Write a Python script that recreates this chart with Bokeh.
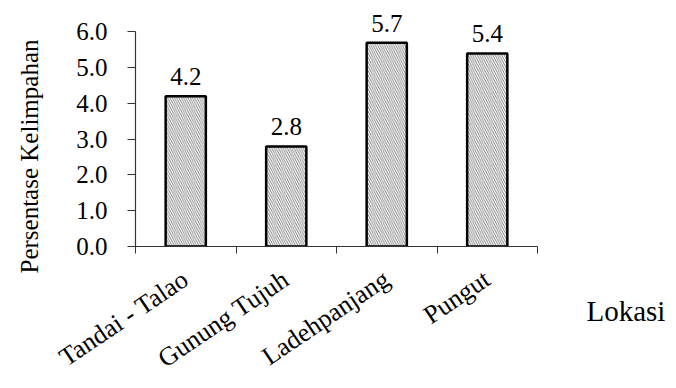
import math
from bokeh.plotting import figure
from bokeh.models import ColumnDataSource, FixedTicker, Label, LabelSet, NumeralTickFormatter, Range1d
from bokeh.embed import file_html
from bokeh.resources import INLINE

# ---- data ----
categories = ["Tandai - Talao", "Gunung Tujuh", "Ladehpanjang", "Pungut"]
values = [4.2, 2.8, 5.7, 5.4]
y_ticks = [0, 1, 2, 3, 4, 5, 6]
y_label = "Persentase Kelimpahan"
x_label = "Lokasi"

FONT = "Liberation Serif"

centers = [i + 0.5 for i in range(len(categories))]
bounds = list(range(len(categories) + 1))
src = ColumnDataSource(dict(
    x=centers,
    top=values,
    txt=["%.1f" % v for v in values],
))

# headroom above the top tick so the value labels are not clipped
y_top = y_ticks[-1] * 1.1

p = figure(width=676, height=388, output_backend="svg", toolbar_location=None,
           x_range=Range1d(0, len(categories)), y_range=Range1d(y_ticks[0], y_top),
           min_border_left=135, min_border_right=139, min_border_top=10, min_border_bottom=139)
p.outline_line_color = None
p.grid.visible = False
p.background_fill_color = "white"
p.border_fill_color = "white"

p.vbar(x="x", top="top", width=0.4, source=src,
       fill_color="white", line_color="black", line_width=2.5,
       hatch_pattern="\\", hatch_color="#666666", hatch_scale=4.5, hatch_weight=0.8)

labels = LabelSet(x="x", y="top", text="txt", source=src, text_align="center",
                  text_baseline="bottom", y_offset=11, text_font=FONT,
                  text_font_size="25px", text_color="black")
p.add_layout(labels)

# x axis
xa = p.xaxis[0]
xa.ticker = FixedTicker(ticks=centers, minor_ticks=bounds)
xa.major_label_overrides = {c: n for c, n in zip(centers, categories)}
xa.major_tick_out = 0
xa.major_tick_in = 0
xa.minor_tick_out = 7
xa.minor_tick_in = 0
xa.minor_tick_line_color = "#333333"
xa.axis_line_color = "#333333"
xa.axis_line_width = 1.2
xa.major_label_orientation = math.radians(34)
xa.major_label_text_font = FONT
xa.major_label_text_font_size = "26px"
xa.major_label_text_color = "black"
xa.major_label_standoff = 23

# y axis
ya = p.yaxis[0]
ya.bounds = (y_ticks[0], y_ticks[-1])
ya.ticker = FixedTicker(ticks=y_ticks, minor_ticks=[])
ya.formatter = NumeralTickFormatter(format="0.0")
ya.major_tick_out = 8
ya.major_tick_in = 0
ya.major_tick_line_color = "#333333"
ya.axis_line_color = "#333333"
ya.axis_line_width = 1.2
ya.major_label_text_font = FONT
ya.major_label_text_font_size = "25px"
ya.major_label_text_color = "black"
ya.major_label_standoff = 20

ylab = Label(x=29, y=156, x_units="canvas", y_units="canvas", text=y_label,
             angle=math.pi / 2, text_align="center", text_baseline="middle",
             text_font=FONT, text_font_size="25px", text_color="black")
p.add_layout(ylab, "left")

xlab = Label(x=586, y=310, x_units="canvas", y_units="canvas", text=x_label,
             text_align="left", text_baseline="alphabetic",
             text_font=FONT, text_font_size="29px", text_color="black")
p.add_layout(xlab, "right")

open("out.html", "w").write(file_html(p, INLINE))
